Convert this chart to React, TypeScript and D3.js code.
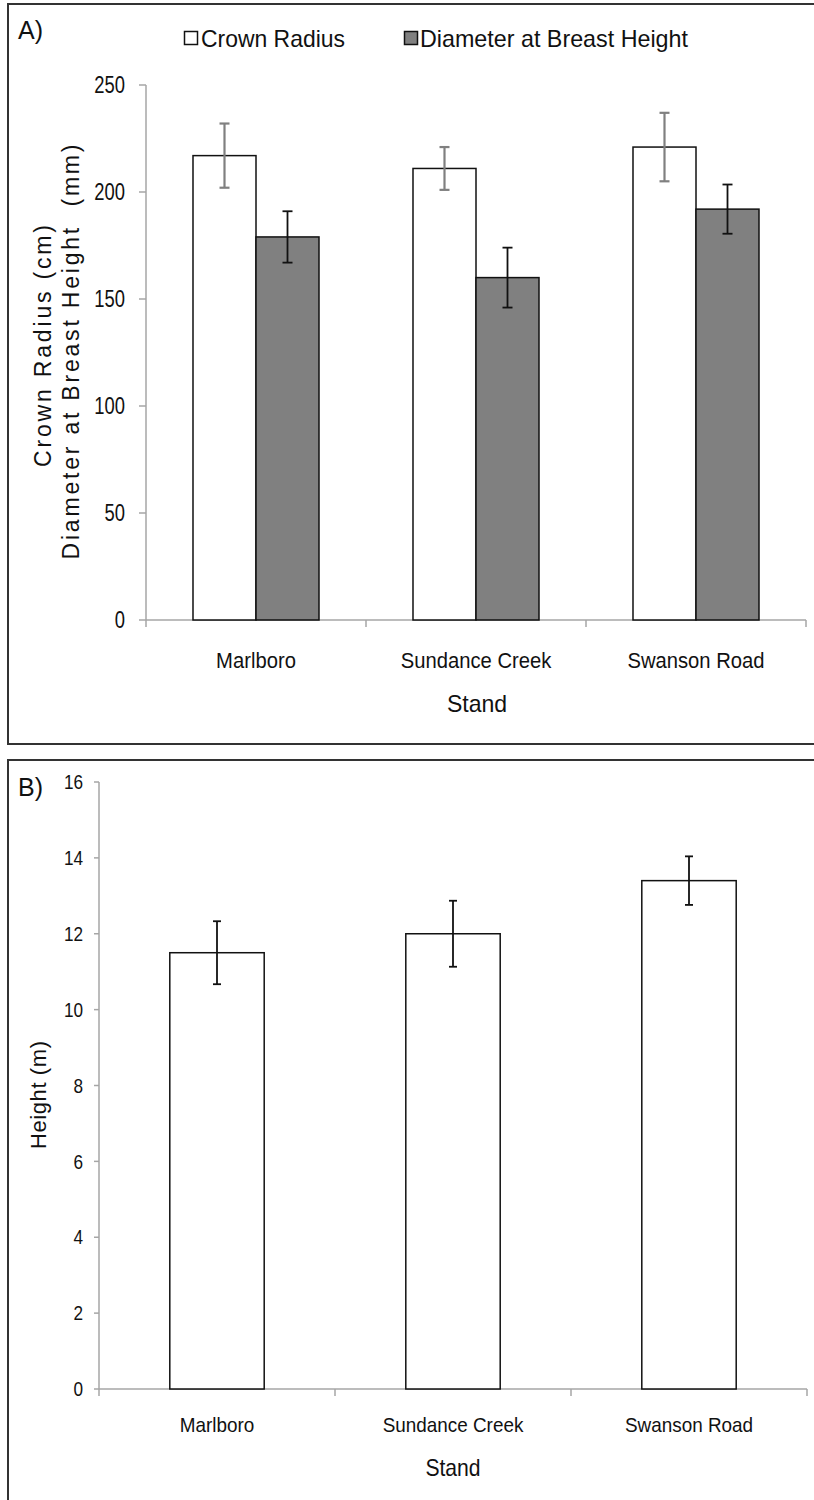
import React from "react";
import * as d3 from "d3";

const stands = ["Marlboro", "Sundance Creek", "Swanson Road"];
const crownRadius = [217, 211, 221];
const crownRadiusErr = [15, 10, 16];
const dbh = [179, 160, 192];
const dbhErr = [12, 14, 11.5];
const height = [11.5, 12.0, 13.4];
const heightErr = [0.83, 0.87, 0.64];
const ticksA = [0, 50, 100, 150, 200, 250];
const ticksB = [0, 2, 4, 6, 8, 10, 12, 14, 16];

const SANS = "'Liberation Sans', Arial, sans-serif";
const AXIS = "#a6a6a6";
const GRAY = "#808080";
const INK = "#111";

type STProps = { x: number; y: number; sx: number; size: number; anchor?: string; dy?: string; children: React.ReactNode };
const SText = ({ x, y, sx, size, anchor = "start", dy, children }: STProps) => (
  <text transform={`translate(${x},${y}) scale(${sx},1)`} dy={dy} textAnchor={anchor} fontFamily={SANS} fontSize={size} fill={INK}>
    {children}
  </text>
);

export default function App() {
  // Panel A
  const xA = d3.scaleBand<string>().domain(stands).range([146, 806]);
  const innerA = d3.scaleBand<string>().domain(["cr", "dbh"]).range([0, xA.bandwidth()]).paddingInner(0).paddingOuter(0.746);
  const yA = d3.scaleLinear().domain([0, 250]).range([620, 85]);

  // Panel B
  const xB = d3.scaleBand<string>().domain(stands).range([99, 807]).paddingInner(0.6).paddingOuter(0.3);
  const xBaxis = d3.scaleBand<string>().domain(stands).range([99, 807]);
  const yB = d3.scaleLinear().domain([0, 16]).range([1389, 782]);

  const errBar = (cx: number, y0: number, y1: number, color: string, w: number, key: string, cap = 5) => (
    <g key={key} stroke={color} strokeWidth={w}>
      <line x1={cx} x2={cx} y1={y0} y2={y1} />
      <line x1={cx - cap} x2={cx + cap} y1={y0} y2={y0} />
      <line x1={cx - cap} x2={cx + cap} y1={y1} y2={y1} />
    </g>
  );

  const ax0 = xA.range()[0];

  return (
    <svg width={814} height={1500} style={{ position: "absolute", top: 0, left: 0, background: "#fff" }}>
      <rect x={0} y={0} width={814} height={1500} fill="#fff" />
      {/* Panel borders */}
      <rect x={8} y={4} width={820} height={740} fill="none" stroke="#333" strokeWidth={2} />
      <rect x={8} y={760} width={820} height={760} fill="none" stroke="#333" strokeWidth={2} />

      {/* ===== Panel A ===== */}
      <text x={18} y={39} fontFamily={SANS} fontSize={25} fill={INK}>A)</text>
      {/* legend */}
      <rect x={184.5} y={31.5} width={13} height={13} fill="#fff" stroke={INK} strokeWidth={1.5} />
      <text x={201} y={47} fontFamily={SANS} fontSize={24} fill={INK} textLength={144} lengthAdjust="spacingAndGlyphs">Crown Radius</text>
      <rect x={404.5} y={31.5} width={13} height={13} fill={GRAY} stroke={INK} strokeWidth={1.5} />
      <text x={420} y={47} fontFamily={SANS} fontSize={24} fill={INK} textLength={268} lengthAdjust="spacingAndGlyphs">Diameter at Breast Height</text>

      {/* y axis */}
      <line x1={ax0} x2={ax0} y1={yA(250)} y2={yA(0)} stroke={AXIS} strokeWidth={1.5} />
      {ticksA.map((t) => (
        <g key={"ta" + t}>
          <line x1={ax0 - 7} x2={ax0} y1={yA(t)} y2={yA(t)} stroke={AXIS} strokeWidth={1.5} />
          <SText x={ax0 - 21} y={yA(t)} dy="0.36em" anchor="end" size={23} sx={0.8}>{t}</SText>
        </g>
      ))}
      {/* x axis */}
      <line x1={ax0} x2={xA.range()[1]} y1={yA(0)} y2={yA(0)} stroke={AXIS} strokeWidth={1.5} />
      {stands.map((s) => (
        <line key={"xta" + s} x1={(xA(s) as number) + xA.bandwidth()} x2={(xA(s) as number) + xA.bandwidth()} y1={yA(0)} y2={yA(0) + 7} stroke={AXIS} strokeWidth={1.5} />
      ))}
      <line x1={ax0} x2={ax0} y1={yA(0)} y2={yA(0) + 7} stroke={AXIS} strokeWidth={1.5} />

      {/* bars */}
      {stands.map((s, i) => {
        const gx = xA(s) as number;
        const bw = innerA.bandwidth();
        const crx = gx + (innerA("cr") as number);
        const dbx = gx + (innerA("dbh") as number);
        return (
          <g key={"ba" + s}>
            <rect x={crx} y={yA(crownRadius[i])} width={bw} height={yA(0) - yA(crownRadius[i])} fill="#fff" stroke={INK} strokeWidth={1.5} />
            <rect x={dbx} y={yA(dbh[i])} width={bw} height={yA(0) - yA(dbh[i])} fill={GRAY} stroke={INK} strokeWidth={1.5} />
            {errBar(crx + bw / 2, yA(crownRadius[i] + crownRadiusErr[i]), yA(crownRadius[i] - crownRadiusErr[i]), GRAY, 2.2, "ec" + s)}
            {errBar(dbx + bw / 2, yA(dbh[i] + dbhErr[i]), yA(dbh[i] - dbhErr[i]), INK, 1.8, "ed" + s)}
          </g>
        );
      })}
      {/* category labels */}
      {stands.map((s) => (
        <SText key={"la" + s} x={(xA(s) as number) + xA.bandwidth() / 2} y={668} anchor="middle" size={22} sx={0.92}>{s}</SText>
      ))}
      <SText x={477} y={712} anchor="middle" size={24} sx={0.96}>Stand</SText>
      {/* y label */}
      <text transform="translate(43,346) rotate(-90)" dy="0.35em" textAnchor="middle" fontFamily={SANS} fontSize={23} fill={INK} textLength={242} lengthAdjust="spacing">Crown Radius (cm)</text>
      <text transform="translate(71,352) rotate(-90)" dy="0.35em" textAnchor="middle" fontFamily={SANS} fontSize={23} fill={INK} textLength={415} lengthAdjust="spacing" style={{ whiteSpace: "pre" }}>Diameter at Breast Height  (mm)</text>

      {/* ===== Panel B ===== */}
      <text x={18} y={796} fontFamily={SANS} fontSize={25} fill={INK}>B)</text>
      <line x1={99} x2={99} y1={yB(16)} y2={yB(0)} stroke={AXIS} strokeWidth={1.5} />
      {ticksB.map((t) => (
        <g key={"tb" + t}>
          <line x1={94} x2={99} y1={yB(t)} y2={yB(t)} stroke={AXIS} strokeWidth={1.5} />
          <SText x={83} y={yB(t)} dy="0.36em" anchor="end" size={20} sx={0.86}>{t}</SText>
        </g>
      ))}
      <line x1={99} x2={807} y1={yB(0)} y2={yB(0)} stroke={AXIS} strokeWidth={1.5} />
      <line x1={99} x2={99} y1={yB(0)} y2={yB(0) + 7} stroke={AXIS} strokeWidth={1.5} />
      {stands.map((s) => (
        <line key={"xtb" + s} x1={(xBaxis(s) as number) + xBaxis.bandwidth()} x2={(xBaxis(s) as number) + xBaxis.bandwidth()} y1={yB(0)} y2={yB(0) + 7} stroke={AXIS} strokeWidth={1.5} />
      ))}
      {stands.map((s, i) => {
        const bx = xB(s) as number;
        const bw = xB.bandwidth();
        return (
          <g key={"bb" + s}>
            <rect x={bx} y={yB(height[i])} width={bw} height={yB(0) - yB(height[i])} fill="#fff" stroke={INK} strokeWidth={1.5} />
            {errBar(bx + bw / 2, yB(height[i] + heightErr[i]), yB(height[i] - heightErr[i]), INK, 1.8, "eb" + s, 4)}
          </g>
        );
      })}
      {stands.map((s) => (
        <SText key={"lb" + s} x={(xBaxis(s) as number) + xBaxis.bandwidth() / 2} y={1432} anchor="middle" size={21} sx={0.9}>{s}</SText>
      ))}
      <SText x={453} y={1476} anchor="middle" size={23} sx={0.92}>Stand</SText>
      <text transform="translate(38,1095) rotate(-90)" dy="0.35em" textAnchor="middle" fontFamily={SANS} fontSize={22} fill={INK} textLength={108} lengthAdjust="spacing">Height (m)</text>
    </svg>
  );
}
